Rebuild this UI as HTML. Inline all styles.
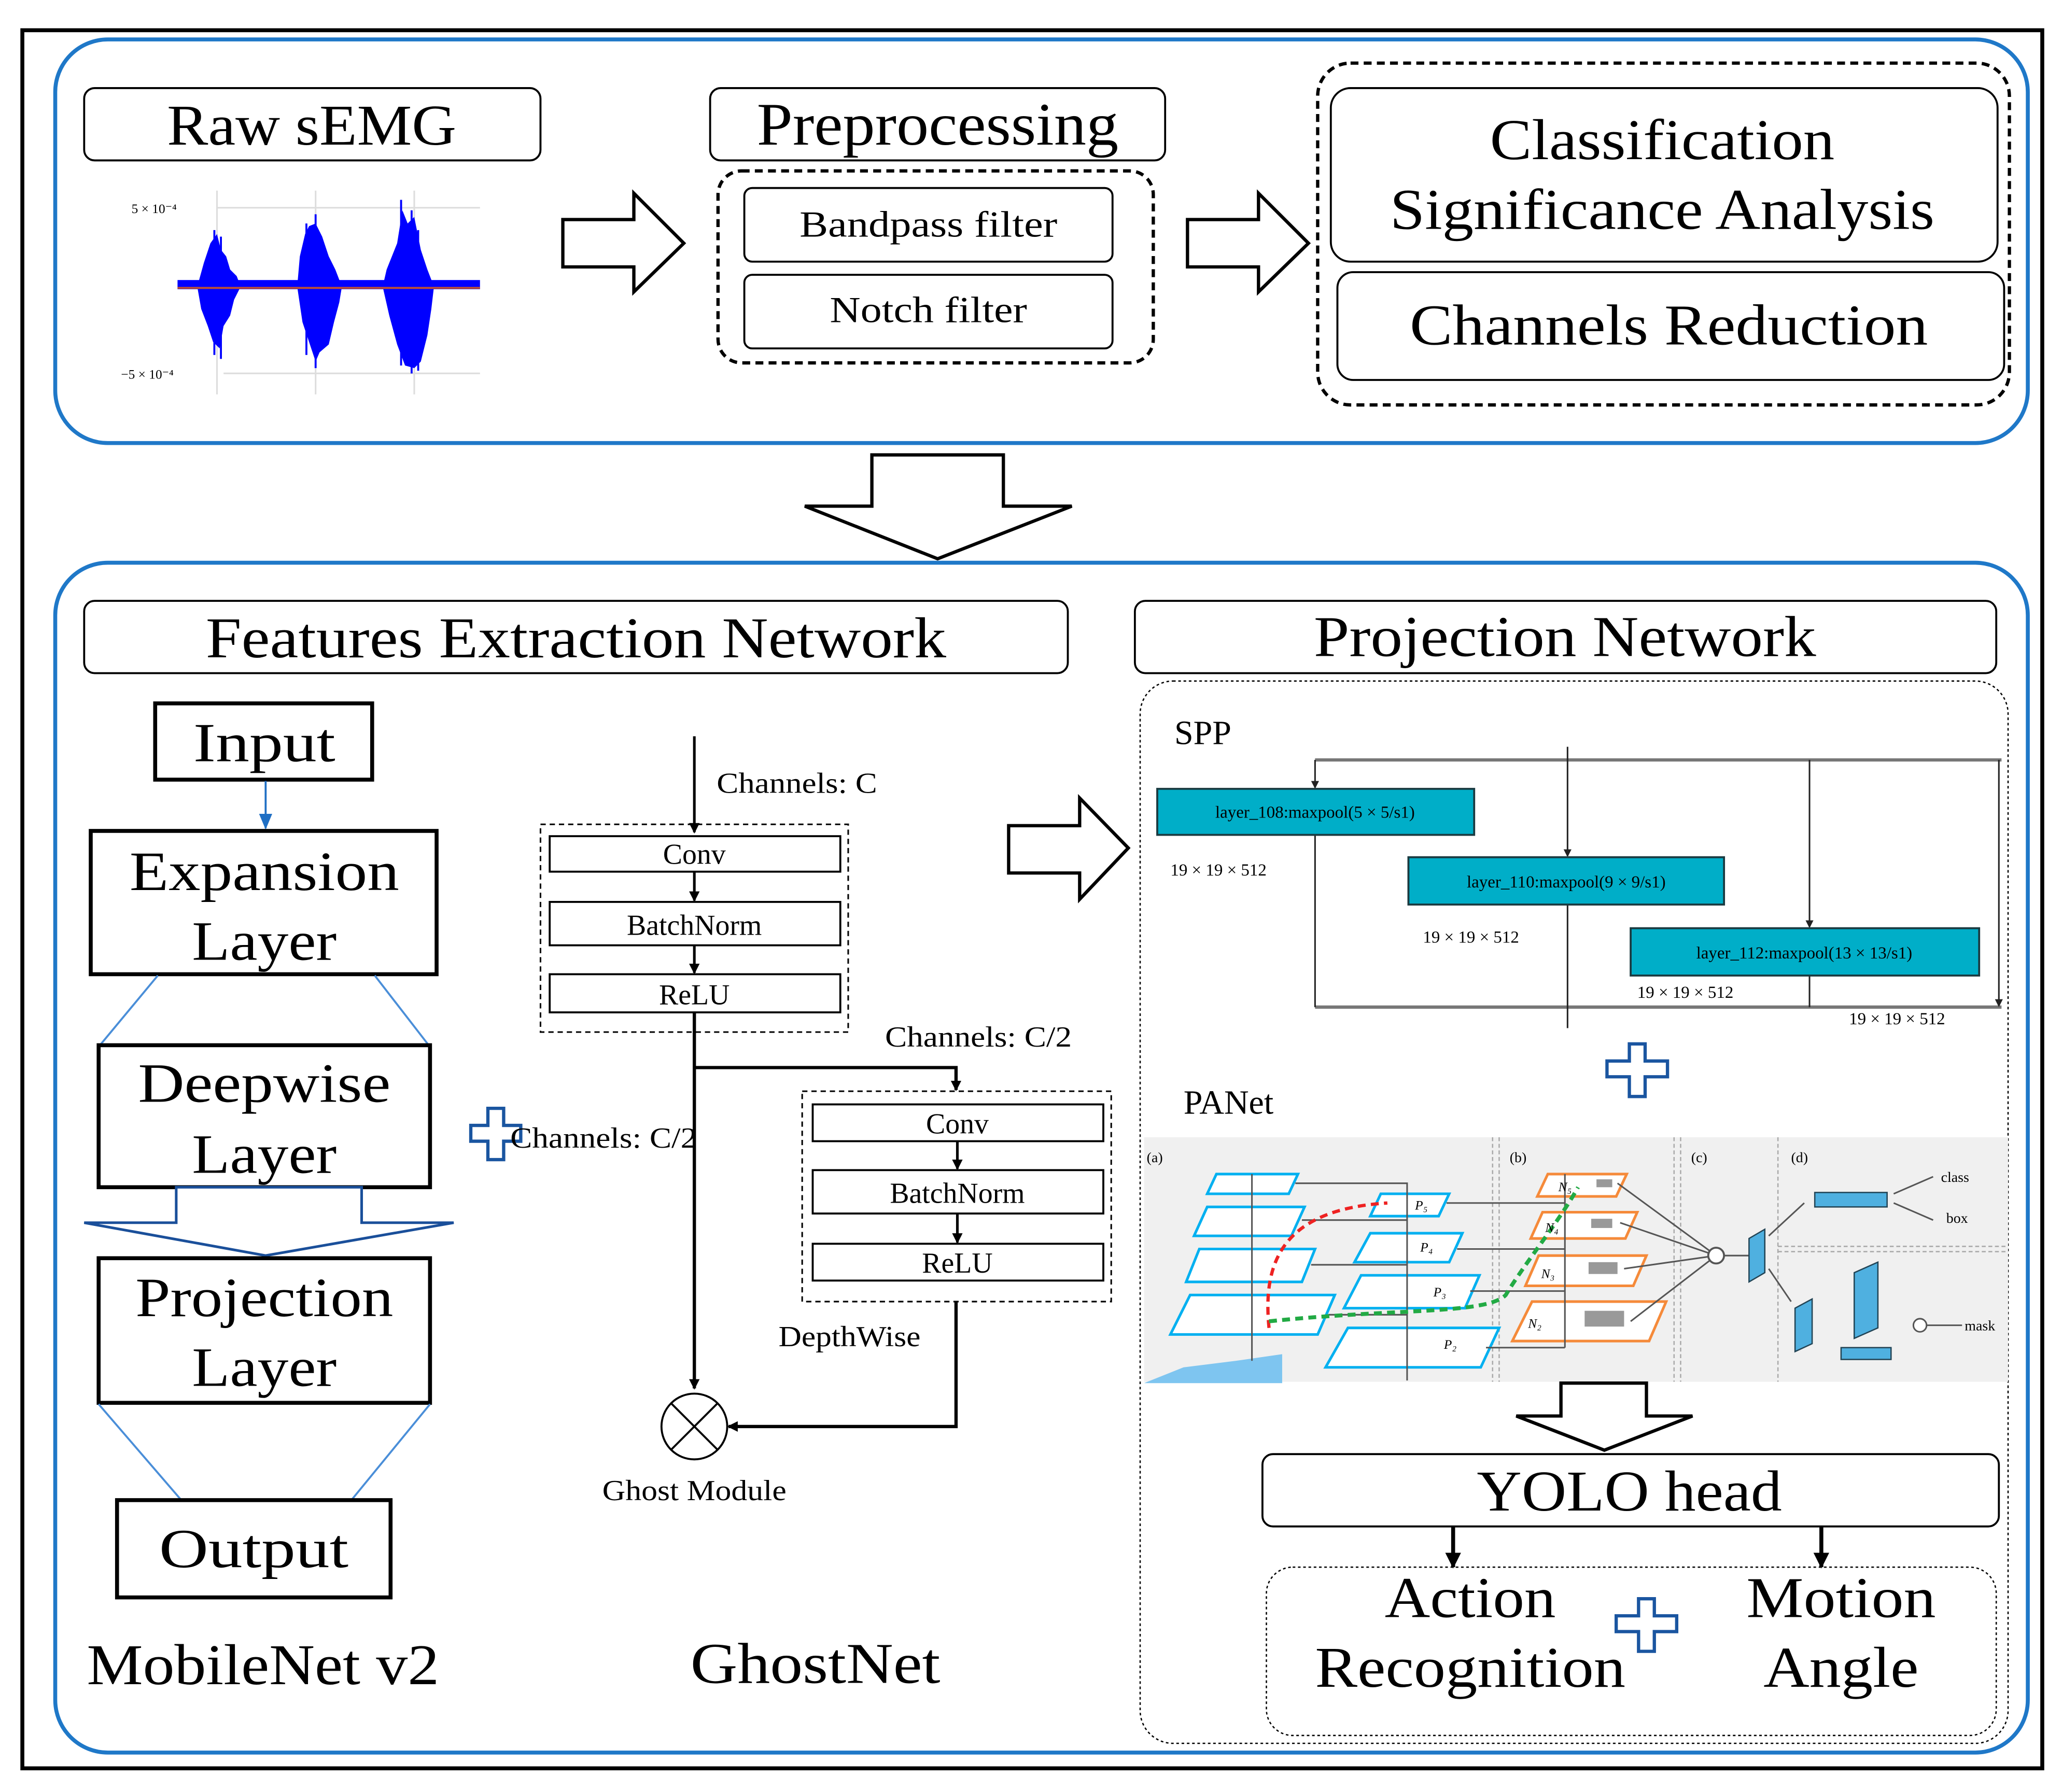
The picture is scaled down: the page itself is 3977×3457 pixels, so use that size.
<!DOCTYPE html>
<html><head><meta charset="utf-8"><style>
html,body{margin:0;padding:0;background:#fff;}
svg{display:block;}
text{font-family:"Liberation Serif",serif;fill:#000;}
</style></head><body>
<svg width="3977" height="3457" viewBox="0 0 1568 1363" preserveAspectRatio="none" xmlns="http://www.w3.org/2000/svg">
<defs>
<marker id="ah" markerWidth="8" markerHeight="8" refX="7" refY="4" orient="auto" markerUnits="userSpaceOnUse"><path d="M0,0 L8,4 L0,8 z" fill="#000"/></marker>
<marker id="ahb" markerWidth="12" markerHeight="12" refX="11" refY="6" orient="auto" markerUnits="userSpaceOnUse"><path d="M0,0 L12,6 L0,12 z" fill="#000"/></marker>
<marker id="ahs" markerWidth="6" markerHeight="6" refX="5" refY="3" orient="auto" markerUnits="userSpaceOnUse"><path d="M0,0 L6,3 L0,6 z" fill="#222"/></marker>
<marker id="ahblue" markerWidth="12" markerHeight="10" refX="11" refY="5" orient="auto" markerUnits="userSpaceOnUse"><path d="M0,0 L12,5 L0,10 z" fill="#1f6fc4"/></marker>
</defs>
<rect x="0" y="0" width="1568" height="1363" fill="#fff"/>
<rect x="17" y="23" width="1536" height="1322" fill="none" stroke="#000" stroke-width="3"/>
<rect x="42" y="30" width="1500" height="307" rx="40" fill="none" stroke="#1f78c8" stroke-width="3"/>
<rect x="42" y="428" width="1500" height="905" rx="40" fill="none" stroke="#1f78c8" stroke-width="3"/>

<!-- Raw sEMG -->
<rect x="64" y="67" width="347" height="55" rx="8" fill="none" stroke="#000" stroke-width="1.5"/>
<text x="237" y="110" font-size="44" text-anchor="middle" textLength="220" lengthAdjust="spacingAndGlyphs">Raw sEMG</text>
<g stroke="#ddd" stroke-width="1.2">
<line x1="165" y1="145" x2="165" y2="300"/><line x1="240" y1="145" x2="240" y2="300"/><line x1="315" y1="145" x2="315" y2="300"/>
<line x1="165" y1="158" x2="365" y2="158"/><line x1="170" y1="284" x2="365" y2="284"/>
</g>
<text x="100" y="162" font-size="10" fill="#333">5 × 10⁻⁴</text>
<text x="92" y="288" font-size="10" fill="#333">−5 × 10⁻⁴</text>
<g fill="#0000ff">
<rect x="135" y="213" width="230" height="7"/>
<polygon points="150,218 155,200 160,185 165,178 168,190 172,195 175,205 180,210 183,218 178,228 175,240 170,248 167,265 162,260 158,248 153,235"/>
<polygon points="226,218 228,195 232,178 235,172 240,170 245,180 250,195 255,205 260,218 258,230 254,245 250,262 243,268 240,275 235,260 230,245"/>
<polygon points="291,218 294,205 298,195 302,185 306,160 310,170 315,165 320,190 325,205 330,218 328,235 325,255 320,275 315,280 308,278 302,262 296,240"/>
</g>
<g stroke="#0000ff" stroke-width="1.5">
<line x1="163" y1="175" x2="163" y2="270"/><line x1="168" y1="180" x2="168" y2="273"/><line x1="240" y1="163" x2="240" y2="280"/><line x1="233" y1="170" x2="233" y2="270"/>
<line x1="305" y1="152" x2="305" y2="278"/><line x1="313" y1="160" x2="313" y2="284"/><line x1="318" y1="175" x2="318" y2="282"/>
</g>
<line x1="135" y1="219" x2="365" y2="219" stroke="#c05030" stroke-width="1.5"/>

<!-- arrows -->
<polygon points="428,167 482,167 482,147 520,185 482,222 482,203 428,203" fill="#fff" stroke="#000" stroke-width="2.5"/>
<polygon points="903,167 957,167 957,147 995,185 957,222 957,203 903,203" fill="#fff" stroke="#000" stroke-width="2.5"/>

<!-- Preprocessing -->
<rect x="540" y="67" width="346" height="55" rx="8" fill="none" stroke="#000" stroke-width="1.5"/>
<text x="713" y="110" font-size="46" text-anchor="middle" textLength="275" lengthAdjust="spacingAndGlyphs">Preprocessing</text>
<rect x="546" y="130" width="331" height="146" rx="18" fill="none" stroke="#000" stroke-width="2.5" stroke-dasharray="6,4"/>
<rect x="566" y="143" width="280" height="56" rx="6" fill="none" stroke="#000" stroke-width="1.5"/>
<text x="706" y="180" font-size="28" text-anchor="middle" textLength="196" lengthAdjust="spacingAndGlyphs">Bandpass filter</text>
<rect x="566" y="209" width="280" height="56" rx="6" fill="none" stroke="#000" stroke-width="1.5"/>
<text x="706" y="245" font-size="28" text-anchor="middle" textLength="150" lengthAdjust="spacingAndGlyphs">Notch filter</text>

<!-- Classification -->
<rect x="1002" y="48" width="526" height="260" rx="25" fill="none" stroke="#000" stroke-width="2.5" stroke-dasharray="6,4"/>
<rect x="1012" y="67" width="507" height="132" rx="15" fill="none" stroke="#000" stroke-width="1.5"/>
<text x="1264" y="121" font-size="44" text-anchor="middle" textLength="262" lengthAdjust="spacingAndGlyphs">Classification</text>
<text x="1264" y="174" font-size="44" text-anchor="middle" textLength="414" lengthAdjust="spacingAndGlyphs">Significance Analysis</text>
<rect x="1017" y="207" width="507" height="82" rx="12" fill="none" stroke="#000" stroke-width="1.5"/>
<text x="1269" y="262" font-size="44" text-anchor="middle" textLength="394" lengthAdjust="spacingAndGlyphs">Channels Reduction</text>

<!-- big down arrow -->
<polygon points="663,346 763,346 763,385 815,385 713,425 612,385 663,385" fill="#fff" stroke="#000" stroke-width="2.5"/>

<!-- headers -->
<rect x="64" y="457" width="748" height="55" rx="8" fill="none" stroke="#000" stroke-width="1.5"/>
<text x="438" y="500" font-size="44" text-anchor="middle" textLength="563" lengthAdjust="spacingAndGlyphs">Features Extraction Network</text>
<rect x="863" y="457" width="655" height="55" rx="8" fill="none" stroke="#000" stroke-width="1.5"/>
<text x="1190" y="499" font-size="44" text-anchor="middle" textLength="382" lengthAdjust="spacingAndGlyphs">Projection Network</text>

<!-- MobileNet -->
<rect x="118" y="535" width="165" height="58" fill="none" stroke="#000" stroke-width="3"/>
<text x="201" y="579" font-size="42" text-anchor="middle" textLength="108" lengthAdjust="spacingAndGlyphs">Input</text>
<line x1="202" y1="594" x2="202" y2="630" stroke="#1f6fc4" stroke-width="1.5" marker-end="url(#ahblue)"/>
<rect x="69" y="632" width="263" height="109" fill="none" stroke="#000" stroke-width="3"/>
<text x="201" y="677" font-size="42" text-anchor="middle" textLength="205" lengthAdjust="spacingAndGlyphs">Expansion</text>
<text x="201" y="730" font-size="42" text-anchor="middle" textLength="110" lengthAdjust="spacingAndGlyphs">Layer</text>
<line x1="120" y1="742" x2="76" y2="795" stroke="#4a8ed8" stroke-width="1.5"/>
<line x1="285" y1="742" x2="326" y2="795" stroke="#4a8ed8" stroke-width="1.5"/>
<rect x="75" y="795" width="252" height="108" fill="none" stroke="#000" stroke-width="3"/>
<text x="201" y="838" font-size="42" text-anchor="middle" textLength="192" lengthAdjust="spacingAndGlyphs">Deepwise</text>
<text x="201" y="892" font-size="42" text-anchor="middle" textLength="110" lengthAdjust="spacingAndGlyphs">Layer</text>
<polygon points="134,903 275,903 275,930 345,930 202,955 64,930 134,930" fill="#fff" stroke="#1a4f9a" stroke-width="2"/>
<rect x="75" y="957" width="252" height="110" fill="none" stroke="#000" stroke-width="3"/>
<text x="201" y="1001" font-size="42" text-anchor="middle" textLength="196" lengthAdjust="spacingAndGlyphs">Projection</text>
<text x="201" y="1054" font-size="42" text-anchor="middle" textLength="110" lengthAdjust="spacingAndGlyphs">Layer</text>
<line x1="75" y1="1068" x2="137" y2="1140" stroke="#4a8ed8" stroke-width="1.5"/>
<line x1="327" y1="1068" x2="268" y2="1140" stroke="#4a8ed8" stroke-width="1.5"/>
<rect x="89" y="1141" width="208" height="74" fill="none" stroke="#000" stroke-width="3"/>
<text x="193" y="1192" font-size="42" text-anchor="middle" textLength="144" lengthAdjust="spacingAndGlyphs">Output</text>
<text x="200" y="1281" font-size="44" text-anchor="middle" textLength="268" lengthAdjust="spacingAndGlyphs">MobileNet v2</text>

<!-- plus shapes -->
<g fill="#fff" stroke="#1a55a0" stroke-width="2.5">
<polygon points="371,843 383,843 383,856 396,856 396,868 383,868 383,882 371,882 371,868 358,868 358,856 371,856" fill="none"/>
<polygon points="1239,794 1251,794 1251,807 1268,807 1268,819 1251,819 1251,834 1239,834 1239,819 1222,819 1222,807 1239,807"/>
<polygon points="1246,1216 1258,1216 1258,1229 1275,1229 1275,1241 1258,1241 1258,1256 1246,1256 1246,1241 1229,1241 1229,1229 1246,1229"/>
</g>

<!-- GhostNet -->
<g font-size="22" fill="#333">
<text x="545" y="603" textLength="122" lengthAdjust="spacingAndGlyphs" fill="#333">Channels:  C</text>
<text x="673" y="796" textLength="142" lengthAdjust="spacingAndGlyphs" fill="#333">Channels:  C/2</text>
<text x="388" y="873" textLength="142" lengthAdjust="spacingAndGlyphs" fill="#333">Channels:  C/2</text>
<text x="592" y="1024" textLength="108" lengthAdjust="spacingAndGlyphs" fill="#333">DepthWise</text>
<text x="528" y="1141" text-anchor="middle" textLength="140" lengthAdjust="spacingAndGlyphs" fill="#333">Ghost Module</text>
</g>
<line x1="528" y1="560" x2="528" y2="633" stroke="#000" stroke-width="2" marker-end="url(#ah)"/>
<rect x="411" y="627" width="234" height="158" fill="none" stroke="#000" stroke-width="1.2" stroke-dasharray="4,3"/>
<rect x="418" y="636" width="221" height="27" fill="#fff" stroke="#000" stroke-width="1.5"/>
<text x="528" y="657" font-size="22" text-anchor="middle">Conv</text>
<line x1="528" y1="663" x2="528" y2="685" stroke="#000" stroke-width="2" marker-end="url(#ah)"/>
<rect x="418" y="686" width="221" height="33" fill="#fff" stroke="#000" stroke-width="1.5"/>
<text x="528" y="711" font-size="22" text-anchor="middle">BatchNorm</text>
<line x1="528" y1="719" x2="528" y2="740" stroke="#000" stroke-width="2" marker-end="url(#ah)"/>
<rect x="418" y="741" width="221" height="29" fill="#fff" stroke="#000" stroke-width="1.5"/>
<text x="528" y="764" font-size="22" text-anchor="middle">ReLU</text>
<line x1="528" y1="770" x2="528" y2="1056" stroke="#000" stroke-width="2.5" marker-end="url(#ah)"/>
<polyline points="528,812 727,812 727,829" fill="none" stroke="#000" stroke-width="2.5" marker-end="url(#ah)"/>
<rect x="610" y="830" width="235" height="160" fill="none" stroke="#000" stroke-width="1.2" stroke-dasharray="4,3"/>
<rect x="618" y="840" width="221" height="28" fill="#fff" stroke="#000" stroke-width="1.5"/>
<text x="728" y="862" font-size="22" text-anchor="middle">Conv</text>
<line x1="728" y1="868" x2="728" y2="889" stroke="#000" stroke-width="2" marker-end="url(#ah)"/>
<rect x="618" y="890" width="221" height="33" fill="#fff" stroke="#000" stroke-width="1.5"/>
<text x="728" y="915" font-size="22" text-anchor="middle">BatchNorm</text>
<line x1="728" y1="923" x2="728" y2="945" stroke="#000" stroke-width="2" marker-end="url(#ah)"/>
<rect x="618" y="946" width="221" height="28" fill="#fff" stroke="#000" stroke-width="1.5"/>
<text x="728" y="968" font-size="22" text-anchor="middle">ReLU</text>
<polyline points="727,990 727,1085 554,1085" fill="none" stroke="#000" stroke-width="2.5" marker-end="url(#ah)"/>
<circle cx="528" cy="1085" r="25" fill="#fff" stroke="#000" stroke-width="1.5"/>
<line x1="510" y1="1067" x2="546" y2="1103" stroke="#000" stroke-width="1.5"/>
<line x1="546" y1="1067" x2="510" y2="1103" stroke="#000" stroke-width="1.5"/>
<text x="620" y="1280" font-size="44" text-anchor="middle" textLength="190" lengthAdjust="spacingAndGlyphs">GhostNet</text>

<polygon points="767,628 821,628 821,607 858,645 821,684 821,664 767,664" fill="#fff" stroke="#000" stroke-width="2.5"/>

<!-- Projection network -->
<rect x="867" y="518" width="660" height="808" rx="25" fill="none" stroke="#000" stroke-width="1" stroke-dasharray="2,2"/>
<text x="893" y="566" font-size="26">SPP</text>
<g stroke="#777" stroke-width="2.5" fill="none">
<line x1="1000" y1="578" x2="1522" y2="578"/><line x1="1000" y1="766" x2="1522" y2="766"/>
</g>
<g stroke="#222" stroke-width="1.2" fill="none">
<line x1="1000" y1="578" x2="1000" y2="599" marker-end="url(#ahs)"/>
<line x1="1000" y1="635" x2="1000" y2="766"/>
<line x1="1192" y1="568" x2="1192" y2="651" marker-end="url(#ahs)"/>
<line x1="1192" y1="688" x2="1192" y2="782"/>
<line x1="1376" y1="578" x2="1376" y2="705" marker-end="url(#ahs)"/>
<line x1="1376" y1="742" x2="1376" y2="766"/>
<line x1="1520" y1="578" x2="1520" y2="765" marker-end="url(#ahs)"/>
</g>
<g fill="#00aec8" stroke="#1a3a40" stroke-width="1.5">
<rect x="880" y="600" width="241" height="35"/>
<rect x="1071" y="652" width="240" height="36"/>
<rect x="1240" y="706" width="265" height="36"/>
</g>
<g font-size="13" fill="#222">
<text x="1000" y="622" text-anchor="middle" fill="#222">layer_108:maxpool(5 × 5/s1)</text>
<text x="1191" y="675" text-anchor="middle" fill="#222">layer_110:maxpool(9 × 9/s1)</text>
<text x="1372" y="729" text-anchor="middle" fill="#222">layer_112:maxpool(13 × 13/s1)</text>
<text x="890" y="666" fill="#333">19 × 19 × 512</text>
<text x="1082" y="717" fill="#333">19 × 19 × 512</text>
<text x="1245" y="759" fill="#333">19 × 19 × 512</text>
<text x="1406" y="779" fill="#333">19 × 19 × 512</text>
</g>

<text x="900" y="847" font-size="26">PANet</text>
<rect x="870" y="865" width="657" height="186" fill="#f0f0f0"/>
<g stroke="#aaa" stroke-width="1" stroke-dasharray="3,2">
<line x1="1135" y1="865" x2="1135" y2="1051"/><line x1="1140" y1="865" x2="1140" y2="1051"/>
<line x1="1273" y1="865" x2="1273" y2="1051"/><line x1="1278" y1="865" x2="1278" y2="1051"/>
<line x1="1352" y1="865" x2="1352" y2="1051"/>
<line x1="1352" y1="948" x2="1527" y2="948"/><line x1="1352" y1="952" x2="1527" y2="952"/>
</g>
<g font-size="11" fill="#333">
<text x="872" y="884">(a)</text><text x="1148" y="884">(b)</text><text x="1286" y="884">(c)</text><text x="1362" y="884">(d)</text>
<text x="1476" y="899">class</text><text x="1480" y="930">box</text><text x="1494" y="1012">mask</text>
</g>
<polygon points="870,1052 900,1040 940,1035 975,1030 975,1052" fill="#7ec5f0"/>
<g fill="#fff" stroke="#00b0f0" stroke-width="2">
<polygon points="925,893 987,893 980,908 918,908"/>
<polygon points="918,918 992,918 982,940 908,940"/>
<polygon points="912,950 1000,950 990,975 902,975"/>
<polygon points="905,985 1015,985 1002,1015 890,1015"/>
<polygon points="1050,908 1102,908 1094,925 1042,925"/>
<polygon points="1042,938 1112,938 1102,960 1030,960"/>
<polygon points="1035,970 1125,970 1114,995 1022,995"/>
<polygon points="1025,1010 1140,1010 1126,1040 1008,1040"/>
</g>
<g fill="#fff" stroke="#f58a3a" stroke-width="2">
<polygon points="1177,893 1237,893 1229,910 1169,910"/>
<polygon points="1173,922 1245,922 1236,942 1164,942"/>
<polygon points="1170,955 1252,955 1242,978 1160,978"/>
<polygon points="1165,990 1267,990 1254,1020 1150,1020"/>
</g>
<g fill="#999"><rect x="1214" y="897" width="12" height="6"/><rect x="1210" y="927" width="16" height="7"/><rect x="1208" y="960" width="22" height="9"/><rect x="1205" y="997" width="30" height="12"/></g>
<g stroke="#555" stroke-width="1.2" fill="none">
<polyline points="985,900 1070,900 1070,912"/><line x1="990" y1="928" x2="1070" y2="928"/><line x1="997" y1="962" x2="1070" y2="962"/><line x1="1010" y1="1000" x2="1070" y2="1000"/>
<line x1="1070" y1="912" x2="1070" y2="1050"/><line x1="952" y1="893" x2="952" y2="1035"/>
<line x1="1100" y1="915" x2="1190" y2="915"/><line x1="1108" y1="950" x2="1190" y2="950"/><line x1="1118" y1="982" x2="1190" y2="982"/><line x1="1130" y1="1025" x2="1190" y2="1025" />
<line x1="1190" y1="893" x2="1190" y2="1025"/>
<line x1="1230" y1="900" x2="1305" y2="955"/><line x1="1232" y1="930" x2="1305" y2="955"/><line x1="1235" y1="965" x2="1305" y2="955"/><line x1="1240" y1="1005" x2="1305" y2="955"/>
<line x1="1310" y1="955" x2="1330" y2="955"/><line x1="1345" y1="940" x2="1372" y2="915"/><line x1="1345" y1="965" x2="1362" y2="990"/>
<line x1="1440" y1="908" x2="1470" y2="895"/><line x1="1440" y1="915" x2="1470" y2="928"/><line x1="1465" y1="1008" x2="1492" y2="1008"/>
</g>
<circle cx="1305" cy="955" r="6" fill="#fff" stroke="#555" stroke-width="1.5"/>
<circle cx="1460" cy="1008" r="5" fill="#fff" stroke="#555" stroke-width="1.2"/>
<path d="M965,1010 C960,960 975,920 1055,915" fill="none" stroke="#ee2222" stroke-width="2.5" stroke-dasharray="6,4"/>
<path d="M965,1005 C1060,995 1130,1000 1145,985 C1160,960 1185,930 1200,903" fill="none" stroke="#22aa44" stroke-width="3" stroke-dasharray="6,4"/>
<g fill="#4fb0e0" stroke="#245" stroke-width="1">
<polygon points="1330,942 1342,935 1342,968 1330,975"/>
<rect x="1380" y="907" width="55" height="11"/>
<polygon points="1365,995 1378,988 1378,1022 1365,1028"/>
<polygon points="1410,968 1428,960 1428,1010 1410,1018"/>
<rect x="1400" y="1025" width="38" height="9"/>
</g>
<g font-size="10" font-style="italic" fill="#222"><text x="1076" y="920">P₅</text><text x="1080" y="952">P₄</text><text x="1090" y="986">P₃</text><text x="1098" y="1026">P₂</text><text x="1185" y="906">N₅</text><text x="1175" y="937">N₄</text><text x="1172" y="972">N₃</text><text x="1162" y="1010">N₂</text></g>

<polygon points="1187,1052 1252,1052 1252,1077 1287,1077 1220,1103 1153,1077 1187,1077" fill="#fff" stroke="#000" stroke-width="2.5"/>
<rect x="960" y="1106" width="560" height="55" rx="8" fill="none" stroke="#000" stroke-width="1.5"/>
<text x="1239" y="1149" font-size="44" text-anchor="middle" textLength="232" lengthAdjust="spacingAndGlyphs">YOLO head</text>
<line x1="1105" y1="1161" x2="1105" y2="1192" stroke="#000" stroke-width="3" marker-end="url(#ahb)"/>
<line x1="1385" y1="1161" x2="1385" y2="1192" stroke="#000" stroke-width="3" marker-end="url(#ahb)"/>
<rect x="963" y="1192" width="555" height="128" rx="20" fill="none" stroke="#000" stroke-width="1" stroke-dasharray="2,2"/>
<text x="1118" y="1230" font-size="44" text-anchor="middle" textLength="130" lengthAdjust="spacingAndGlyphs">Action</text>
<text x="1118" y="1283" font-size="44" text-anchor="middle" textLength="236" lengthAdjust="spacingAndGlyphs">Recognition</text>
<text x="1400" y="1230" font-size="44" text-anchor="middle" textLength="144" lengthAdjust="spacingAndGlyphs">Motion</text>
<text x="1400" y="1283" font-size="44" text-anchor="middle" textLength="118" lengthAdjust="spacingAndGlyphs">Angle</text>
</svg>
</body></html>
